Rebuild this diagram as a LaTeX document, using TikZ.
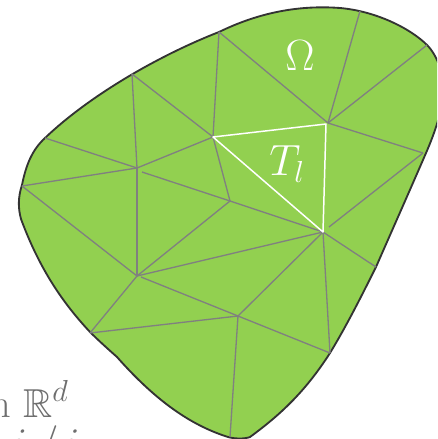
\documentclass[tikz,border=0pt]{standalone}
\usepackage{amsmath,amssymb}
\definecolor{domaingreen}{HTML}{92D050}
\definecolor{meshgray}{HTML}{808080}
\definecolor{edgedark}{HTML}{333333}
\definecolor{captiongray}{HTML}{6E6E6E}
\tikzset{
  meshline/.style={draw=meshgray, line width=0.75pt},
  elemline/.style={draw=white, line width=0.85pt, line join=round},
  whitelabel/.style={text=white, inner sep=0pt},
  captiontext/.style={text=captiongray, inner sep=0pt, anchor=base west}
}
\begin{document}
\begin{tikzpicture}[x=0.02cm, y=-0.02cm]
  \useasboundingbox (0,0) rectangle (437,439);
  \clip (0,0) rectangle (437,439);

  % Domain
  \draw[fill=domaingreen, draw=edgedark, line width=1.05pt]
    (219,32) .. controls (260,12) and (300,5) .. (340,8)
    .. controls (375,11) and (410,28) .. (427,45)
    .. controls (437,55) and (445,75) .. (443,95)
    .. controls (442,110) and (436,130) .. (426,153)
    .. controls (410,190) and (390,235) .. (376,267)
    .. controls (362,295) and (347,325) .. (330,353)
    .. controls (305,392) and (280,415) .. (250,437)
    .. controls (245,439) and (235,439) .. (228,437)
    .. controls (190,425) and (155,400) .. (117,357)
    .. controls (108,349) and (99,341) .. (90,332)
    .. controls (60,300) and (38,265) .. (21,219)
    .. controls (18,208) and (18,197) .. (22,185)
    .. controls (26,165) and (32,150) .. (45,138)
    .. controls (90,95) and (160,55) .. (219,32) -- cycle;

  % Mesh vertices
  \foreach \name/\x/\y in {
    a/132/74, b/45/138, c/22/186,
    d/137/168, e/213/137, f/219/32, g/360/11, h/427/45, i/328/123,
    j/326/124, k/423/153, l/323/232, m/376/267, n/330/353, o/238/316,
    p/230/437, q/90/333, r/137/276, s/230/201,
    dgap/142/172, rgap/141/277, lgap/329/227%
  } {
    \coordinate (\name) at (\x,\y);
  }

  % Mesh edges
  \foreach \from/\to in {
    a/d, a/e, b/d, c/d, c/r, d/e, d/r, dgap/s, e/f, e/s, f/i, g/i, h/i, i/k,
    k/lgap, s/l, s/r, r/l, rgap/o, r/q, q/o, o/l, o/n, o/p, l/n, l/m%
  } {
    \draw[meshline] (\from) -- (\to);
  }

  % Highlighted element
  \draw[elemline] (e) -- (j) -- (l) -- cycle;

  % Labels
  \node[whitelabel, font=\fontsize{23}{26}\selectfont] (omega) at (300,56) {$\Omega$};
  \node[whitelabel, font=\fontsize{26}{30}\selectfont] (tl) at (287,164) {$T_l$};
  \node[captiontext, font=\fontsize{23}{26}\selectfont] (space) at (-10,417) {n $\mathbb{R}^d$};
  \node[captiontext, font=\fontsize{23}{26}\selectfont] (cutline) at (12,458) {$i$\hspace{6pt}$/$\hspace{3.5pt}$i$};
\end{tikzpicture}
\end{document}
